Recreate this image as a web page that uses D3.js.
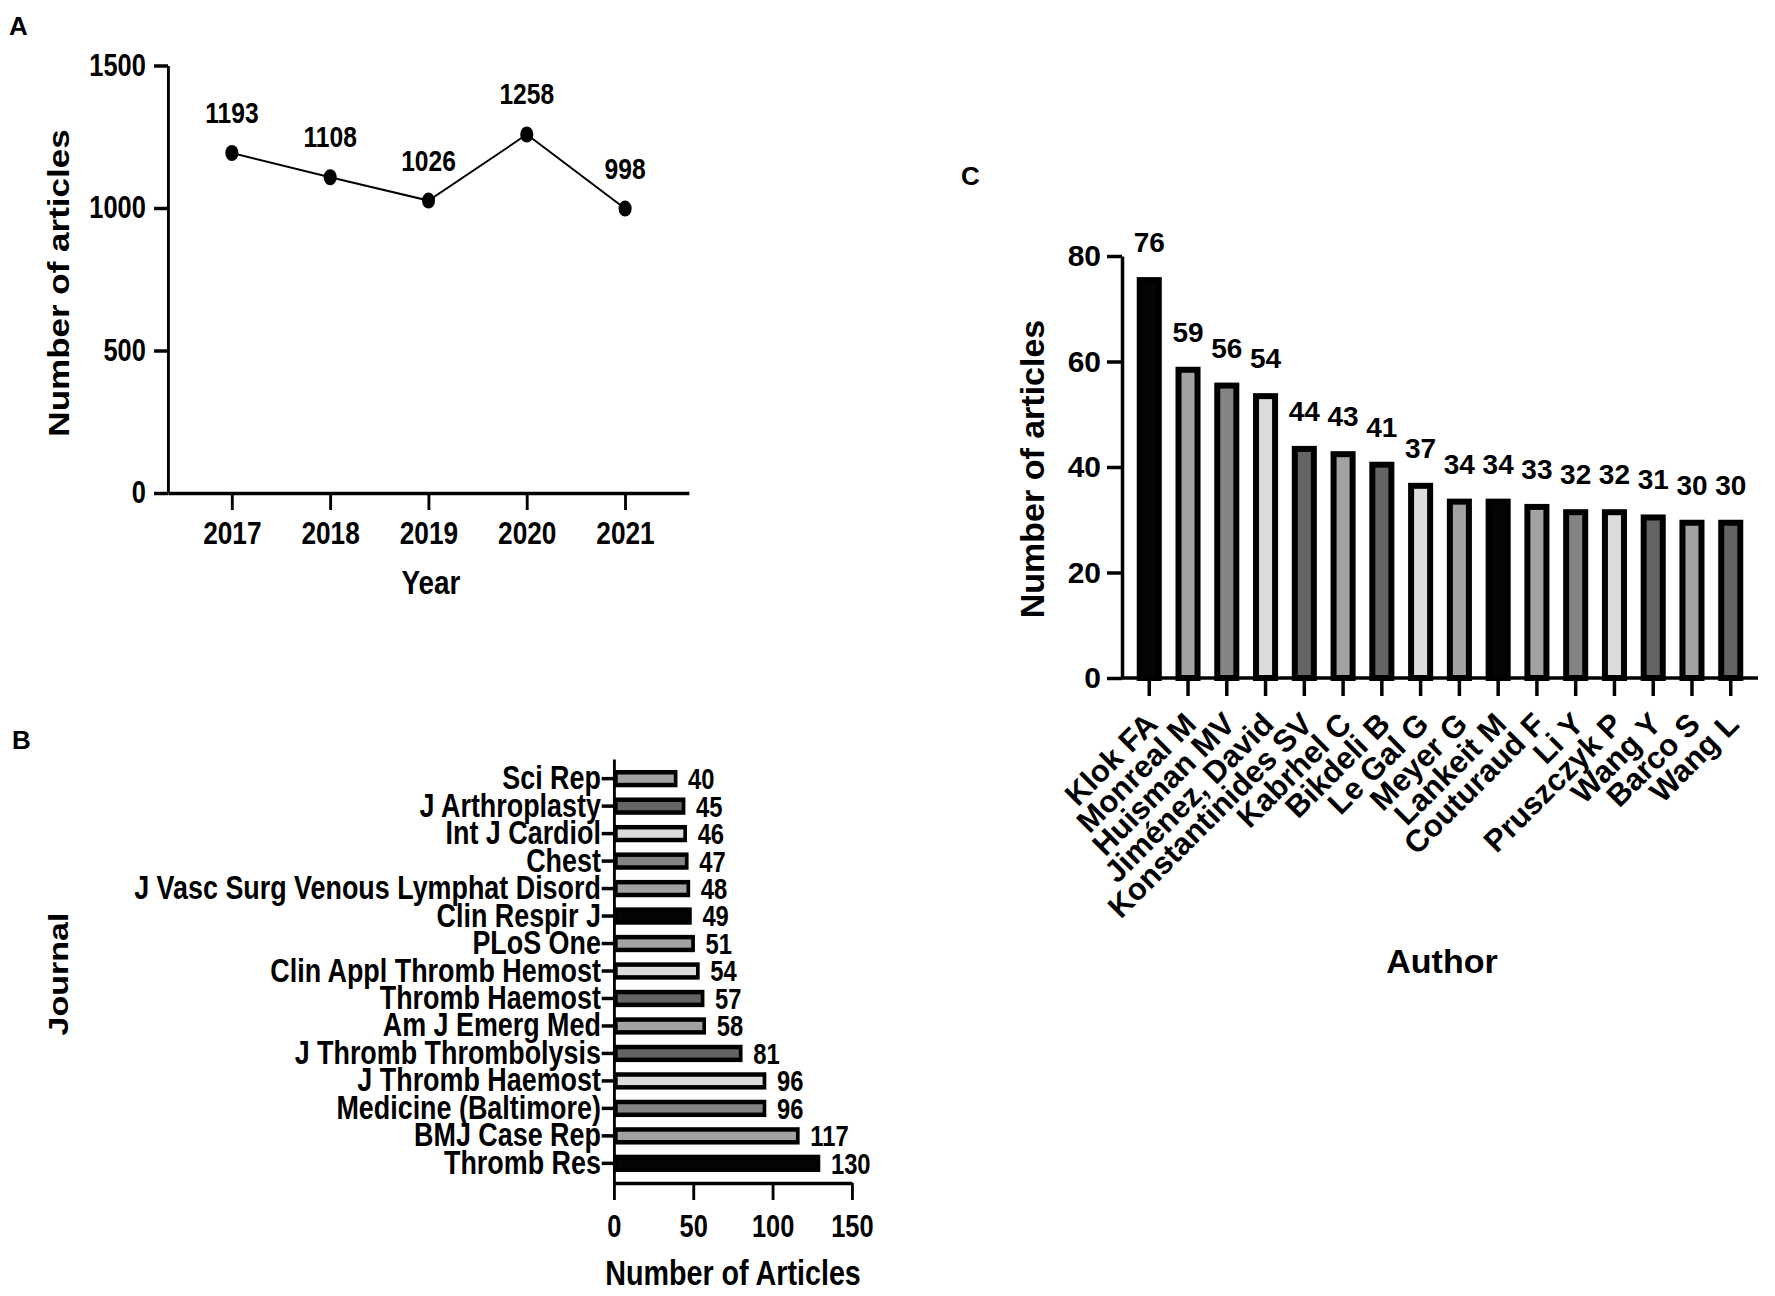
<!DOCTYPE html>
<html>
<head>
<meta charset="utf-8">
<script src="https://cdn.jsdelivr.net/npm/d3@7"></script>
<style>
  html, body { margin: 0; padding: 0; background: #fff; }
  svg text { font-family: "Liberation Sans", Arial, sans-serif; font-weight: bold; fill: #000; }
  .axis path, .axis line { stroke: #000; stroke-width: 3.5px; }
</style>
</head>
<body>
<svg id="fig" width="1775" height="1296"></svg>
<script>
// panel A - articles per year
var years = [2017, 2018, 2019, 2020, 2021];
var yearCounts = [1193, 1108, 1026, 1258, 998];
var yearTicks = [0, 500, 1000, 1500];

// panel B - journals (largest first, drawn bottom up)
var journals = ["Thromb Res", "BMJ Case Rep", "Medicine (Baltimore)", "J Thromb Haemost",
  "J Thromb Thrombolysis", "Am J Emerg Med", "Thromb Haemost", "Clin Appl Thromb Hemost",
  "PLoS One", "Clin Respir J", "J Vasc Surg Venous Lymphat Disord", "Chest",
  "Int J Cardiol", "J Arthroplasty", "Sci Rep"];
var journalCounts = [130, 117, 96, 96, 81, 58, 57, 54, 51, 49, 48, 47, 46, 45, 40];
var journalTicks = [0, 50, 100, 150];

// panel C - authors
var authors = ["Klok FA", "Monreal M", "Huisman MV", "Jiménez, David", "Konstantinides SV",
  "Kabrhel C", "Bikdeli B", "Le Gal G", "Meyer G", "Lankeit M", "Couturaud F", "Li Y",
  "Pruszczyk P", "Wang Y", "Barco S", "Wang L"];
var authorCounts = [76, 59, 56, 54, 44, 43, 41, 37, 34, 34, 33, 32, 32, 31, 30, 30];
var authorTicks = [0, 20, 40, 60, 80];

// grey cycle used by the bars (prism style)
var greys = ["#050505", "#a2a2a4", "#848486", "#dcdcdc", "#646466", "#a2a2a4", "#646466", "#dcdcdc", "#a2a2a4"];

var svg = d3.select("#fig");

// panels A and B were squeezed horizontally in the original figure
var squeeze = 0.82;

function panelLetter(txt, x, y) {
  svg.append("text").attr("x", x).attr("y", y).style("font-size", "26px").text(txt);
}
panelLetter("A", 9, 35);
panelLetter("B", 12, 749);
panelLetter("C", 961, 185);

// ---------- A ----------
(function () {
  var g = svg.append("g").attr("transform", "scale(" + squeeze + ",1)");
  var x = d3.scaleLinear().domain([2016.35, 2021.65]).range([168 / squeeze, 689 / squeeze]);
  var y = d3.scaleLinear().domain([0, 1500]).range([493, 65.5]);

  g.append("g").attr("class", "axis")
    .attr("transform", "translate(0," + y(0) + ")")
    .call(d3.axisBottom(x).tickValues(years).tickFormat(d3.format("d")).tickSize(17).tickSizeOuter(0).tickPadding(11))
    .selectAll("text").style("font-size", "32px");

  g.append("g").attr("class", "axis")
    .attr("transform", "translate(" + x.range()[0] + ",0)")
    .call(d3.axisLeft(y).tickValues(yearTicks).tickFormat(d3.format("d")).tickSize(17).tickSizeOuter(0).tickPadding(10))
    .selectAll("text").style("font-size", "31px");

  var line = d3.line().x(function (d, i) { return x(years[i]); }).y(function (d) { return y(d); });
  g.append("path").datum(yearCounts).attr("d", line)
    .attr("fill", "none").attr("stroke", "#000").attr("stroke-width", 2);

  g.selectAll(".dot").data(yearCounts).enter().append("circle")
    .attr("cx", function (d, i) { return x(years[i]); })
    .attr("cy", function (d) { return y(d); })
    .attr("r", 8).attr("fill", "#000");

  g.selectAll(".val").data(yearCounts).enter().append("text")
    .attr("x", function (d, i) { return x(years[i]); })
    .attr("y", function (d) { return y(d) - 30; })
    .attr("text-anchor", "middle").style("font-size", "30px")
    .text(function (d) { return d; });

  g.append("text").attr("x", 431 / squeeze).attr("y", 594)
    .attr("text-anchor", "middle").style("font-size", "34px").text("Year");

  g.append("text").attr("transform", "translate(" + (69 / squeeze) + ",283) rotate(-90)")
    .attr("text-anchor", "middle").style("font-size", "35px").text("Number of articles");
})();

// ---------- B ----------
(function () {
  var g = svg.append("g").attr("transform", "scale(" + squeeze + ",1)");
  var x = d3.scaleLinear().domain([0, 150]).range([614 / squeeze, 852 / squeeze]);
  var y = d3.scaleBand().domain(journals.slice().reverse()).range([759, 1183])
    .paddingInner(0.37).paddingOuter(0.4);
  var sw = 4.5;

  g.selectAll(".bar").data(journalCounts).enter().append("rect")
    .attr("x", x(0) + sw / 2)
    .attr("y", function (d, i) { return y(journals[i]) + sw / 2; })
    .attr("width", function (d) { return x(d) - x(0) - sw; })
    .attr("height", y.bandwidth() - sw)
    .attr("fill", function (d, i) { return greys[i % greys.length]; })
    .attr("stroke", "#000").attr("stroke-width", sw);

  g.selectAll(".val").data(journalCounts).enter().append("text")
    .attr("x", function (d) { return x(d) + 13; })
    .attr("y", function (d, i) { return y(journals[i]) + y.bandwidth() / 2; })
    .attr("dy", "0.36em").style("font-size", "29px")
    .text(function (d) { return d; });

  g.append("g").attr("class", "axis")
    .attr("transform", "translate(0,1183)")
    .call(d3.axisBottom(x).tickValues(journalTicks).tickSize(17).tickSizeOuter(0).tickPadding(15))
    .selectAll("text").style("font-size", "31px");

  g.append("g").attr("class", "axis")
    .attr("transform", "translate(" + x(0) + ",0)")
    .call(d3.axisLeft(y).tickSize(15).tickSizeOuter(0).tickPadding(1))
    .selectAll("text").style("font-size", "32.8px");

  g.append("text").attr("x", 733 / squeeze).attr("y", 1285)
    .attr("text-anchor", "middle").style("font-size", "35px").text("Number of Articles");

  g.append("text").attr("transform", "translate(" + (68 / squeeze) + ",974) rotate(-90)")
    .attr("text-anchor", "middle").style("font-size", "34px").text("Journal");
})();

// ---------- C ----------
(function () {
  var g = svg.append("g");
  var x = d3.scaleBand().domain(authors).range([1122, 1758]).paddingInner(0.354).paddingOuter(0.38);
  var y = d3.scaleLinear().domain([0, 80]).range([678, 256]);
  var sw = 6;

  g.selectAll(".bar").data(authorCounts).enter().append("rect")
    .attr("x", function (d, i) { return x(authors[i]) + sw / 2; })
    .attr("y", function (d) { return y(d) + sw / 2; })
    .attr("width", x.bandwidth() - sw)
    .attr("height", function (d) { return y(0) - y(d) - sw / 2; })
    .attr("fill", function (d, i) { return greys[i % greys.length]; })
    .attr("stroke", "#000").attr("stroke-width", sw);

  g.selectAll(".val").data(authorCounts).enter().append("text")
    .attr("x", function (d, i) { return x(authors[i]) + x.bandwidth() / 2; })
    .attr("y", function (d) { return y(d) - 25; })
    .attr("text-anchor", "middle").style("font-size", "28px")
    .text(function (d) { return d; });

  var xAxis = g.append("g").attr("class", "axis")
    .attr("transform", "translate(0," + y(0) + ")")
    .call(d3.axisBottom(x).tickSize(18).tickSizeOuter(0));
  xAxis.select(".domain").attr("d", "M" + x.range()[0] + ",0H" + x.range()[1]);
  xAxis.selectAll("text")
    .attr("x", 0).attr("y", 0).attr("dy", 0)
    .attr("text-anchor", "end")
    .attr("transform", "translate(10,48) rotate(-45)")
    .style("font-size", "31px");

  g.append("g").attr("class", "axis")
    .attr("transform", "translate(1122,0)")
    .call(d3.axisLeft(y).tickValues(authorTicks).tickSize(15).tickSizeOuter(0).tickPadding(6))
    .selectAll("text").style("font-size", "30px");

  g.append("text").attr("x", 1442).attr("y", 973)
    .attr("text-anchor", "middle").style("font-size", "34px").text("Author");

  g.append("text").attr("transform", "translate(1044,469) rotate(-90)")
    .attr("text-anchor", "middle").style("font-size", "34px").text("Number of articles");
})();
</script>
</body>
</html>
